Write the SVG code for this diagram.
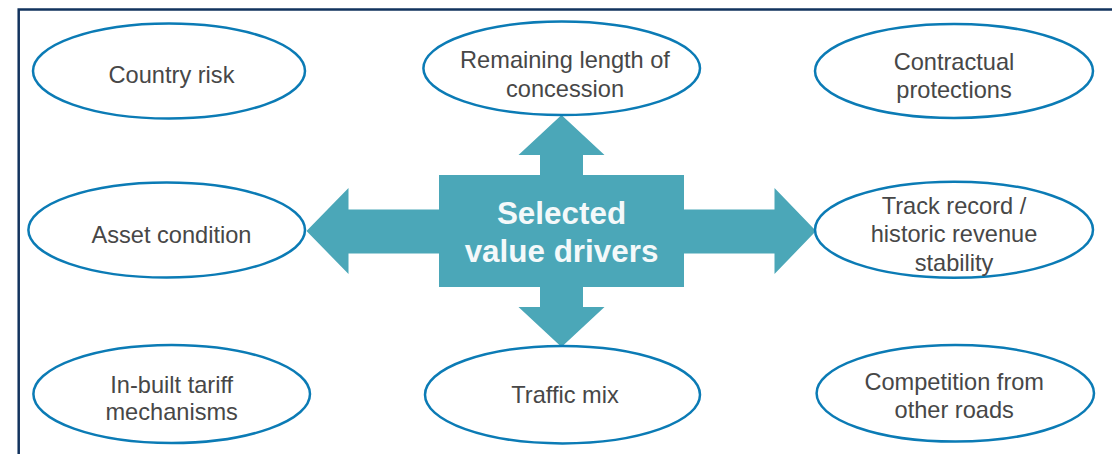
<svg xmlns="http://www.w3.org/2000/svg" width="1112" height="454" viewBox="0 0 1112 454">
  <style>
    .frame { fill: none; stroke: #12335e; stroke-width: 2.5; }
    .oval { fill: #ffffff; stroke: #0b7bb5; stroke-width: 2.5; }
    .lbl { font-family: "Liberation Sans", Arial, sans-serif; font-size: 23.6px; fill: #474747; text-anchor: middle; }
    .hub { fill: #4ba7b8; }
    .hubtxt { font-family: "Liberation Sans", Arial, sans-serif; font-size: 31.4px; font-weight: bold; fill: #f4f9fa; text-anchor: middle; }
  </style>

  <rect width="1112" height="454" fill="#ffffff"/>
  <!-- open frame: top and left edges only -->
  <path class="frame" d="M18.7,460 L18.7,9.5 L1120,9.5"/>

  <!-- arrows radiating from the central box -->
  <g id="connectors" class="hub">
    <polygon points="561.5,115 604.5,155 583,155 583,176 540,176 540,155 518.5,155"/>
    <polygon points="561.5,347 604.5,307 583,307 583,286 540,286 540,307 518.5,307"/>
    <polygon points="306.5,231 348.5,188 348.5,209.5 440,209.5 440,253.5 348.5,253.5 348.5,274"/>
    <polygon points="816,231 774.5,188 774.5,209.5 683,209.5 683,253.5 774.5,253.5 774.5,274"/>
  </g>

  <g id="hub">
    <rect class="hub" x="439" y="175" width="245" height="112"/>
    <text class="hubtxt" x="561.5" y="224">Selected</text>
    <text class="hubtxt" x="561.5" y="261.7">value drivers</text>
  </g>

  <g id="country-risk">
    <ellipse class="oval" cx="169" cy="71" rx="136" ry="47.5"/>
    <text class="lbl" x="171.5" y="82.7">Country risk</text>
  </g>

  <g id="remaining-length">
    <ellipse class="oval" cx="561.7" cy="68.3" rx="138.3" ry="46.7"/>
    <text class="lbl" x="565" y="68.3">Remaining length of</text>
    <text class="lbl" x="565" y="96.7">concession</text>
  </g>

  <g id="contractual-protections">
    <ellipse class="oval" cx="954" cy="71" rx="139" ry="47"/>
    <text class="lbl" x="954" y="70">Contractual</text>
    <text class="lbl" x="954" y="98.3">protections</text>
  </g>

  <g id="asset-condition">
    <ellipse class="oval" cx="166.7" cy="230" rx="138.3" ry="47.5"/>
    <text class="lbl" x="171.5" y="242.7">Asset condition</text>
  </g>

  <g id="track-record">
    <ellipse class="oval" cx="954" cy="229.7" rx="139" ry="48"/>
    <text class="lbl" x="954" y="214">Track record /</text>
    <text class="lbl" x="954" y="242.3">historic revenue</text>
    <text class="lbl" x="954" y="270.7">stability</text>
  </g>

  <g id="tariff-mechanisms">
    <ellipse class="oval" cx="171.7" cy="394" rx="138.3" ry="49"/>
    <text class="lbl" x="171.7" y="392.7">In-built tariff</text>
    <text class="lbl" x="171.7" y="420">mechanisms</text>
  </g>

  <g id="traffic-mix">
    <ellipse class="oval" cx="562.5" cy="394.7" rx="137.5" ry="48.7"/>
    <text class="lbl" x="565" y="402.7">Traffic mix</text>
  </g>

  <g id="competition">
    <ellipse class="oval" cx="955.3" cy="393.3" rx="138.7" ry="48.3"/>
    <text class="lbl" x="954.2" y="390">Competition from</text>
    <text class="lbl" x="954.2" y="418.3">other roads</text>
  </g>
</svg>
